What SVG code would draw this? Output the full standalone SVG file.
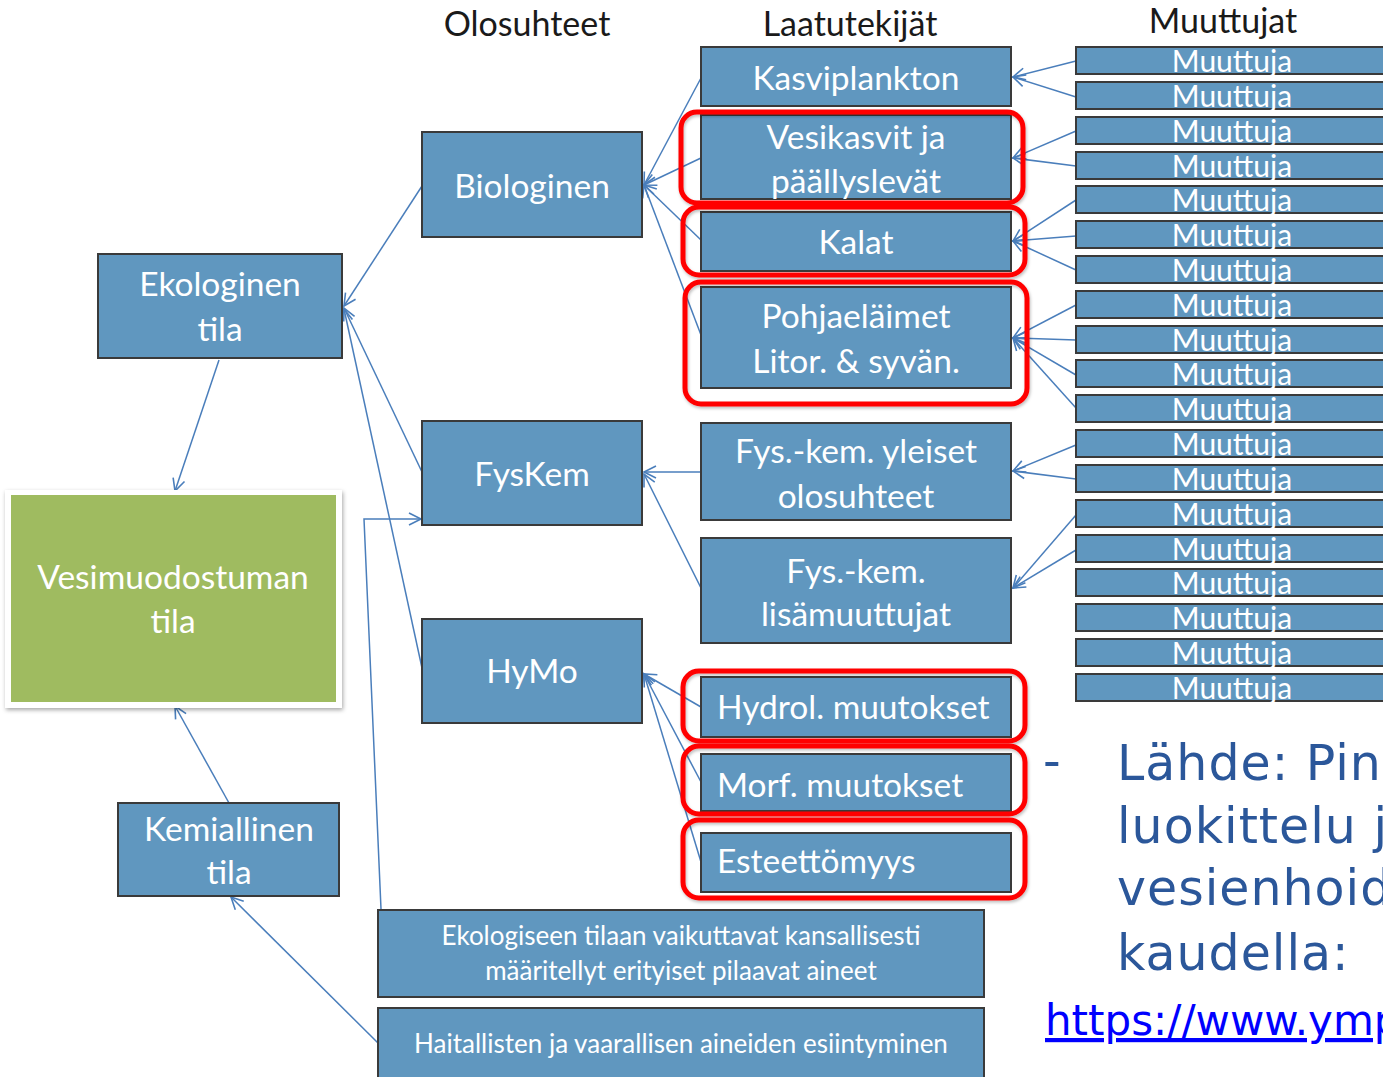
<svg xmlns="http://www.w3.org/2000/svg" width="1383" height="1077" viewBox="0 0 1383 1077">
<defs>
<style>
.box{fill:#6097bf;stroke:#3a3a3a;stroke-width:2}
.t{font-family:Lato,"Open Sans","Liberation Sans",sans-serif;fill:#ffffff;font-size:33.5px;text-anchor:middle}
.tl{text-anchor:start}
.small{font-size:26px}
.mt{font-family:Lato,"Open Sans","Liberation Sans",sans-serif;fill:#ffffff;font-size:30px;text-anchor:middle}
.hdr{font-family:Lato,"Open Sans","Liberation Sans",sans-serif;fill:#1a1a1a;font-size:34px;text-anchor:middle}
.red{fill:none;stroke:#ff0000;stroke-width:5}
.con{fill:none;stroke:#4a7ebb;stroke-width:1.5;marker-end:url(#arr)}
.src{font-family:"DejaVu Sans","Liberation Sans",sans-serif;fill:#2b579a;font-size:49px;letter-spacing:1px}
</style>
<marker id="arr" markerUnits="userSpaceOnUse" markerWidth="18" markerHeight="18" refX="15" refY="9" orient="auto">
<path d="M3,3 L15,9 L3,15" fill="none" stroke="#4a7ebb" stroke-width="1.6"/>
</marker>
<filter id="sh" x="-10%" y="-10%" width="120%" height="120%">
<feDropShadow dx="1" dy="2" stdDeviation="2" flood-color="#000" flood-opacity="0.35"/>
</filter>
<filter id="rsh" x="-10%" y="-10%" width="120%" height="130%">
<feDropShadow dx="1" dy="2" stdDeviation="1.5" flood-color="#000" flood-opacity="0.25"/>
</filter>
</defs>
<rect width="1383" height="1077" fill="#ffffff"/>

<g id="headers">
<text class="hdr" x="527" y="36">Olosuhteet</text>
<text class="hdr" x="850" y="36">Laatutekijät</text>
<text class="hdr" x="1223" y="33">Muuttujat</text>
</g>

<g id="connectors">
<line class="con" x1="219" y1="360" x2="175" y2="491"/>
<line class="con" x1="229" y1="803" x2="175" y2="706"/>
<line class="con" x1="378" y1="1043" x2="231" y2="897"/>
<line class="con" x1="422" y1="186" x2="344" y2="306"/>
<line class="con" x1="422" y1="472" x2="344" y2="308"/>
<line class="con" x1="422" y1="668" x2="344" y2="309"/>
<polyline class="con" points="381,909 364,519 421,519"/>
<line class="con" x1="701" y1="78" x2="644" y2="185"/>
<line class="con" x1="701" y1="158" x2="644" y2="185"/>
<line class="con" x1="701" y1="240" x2="644" y2="185"/>
<line class="con" x1="701" y1="335" x2="644" y2="185"/>
<line class="con" x1="701" y1="472" x2="644" y2="472"/>
<line class="con" x1="701" y1="588" x2="644" y2="474"/>
<line class="con" x1="701" y1="707" x2="644" y2="674"/>
<line class="con" x1="701" y1="782" x2="644" y2="674"/>
<line class="con" x1="701" y1="862" x2="644" y2="674"/>
<line class="con" x1="1076" y1="61" x2="1013" y2="77"/>
<line class="con" x1="1076" y1="97" x2="1013" y2="77"/>
<line class="con" x1="1076" y1="131" x2="1013" y2="158"/>
<line class="con" x1="1076" y1="166" x2="1013" y2="158"/>
<line class="con" x1="1076" y1="200" x2="1013" y2="241"/>
<line class="con" x1="1076" y1="236" x2="1013" y2="241"/>
<line class="con" x1="1076" y1="270" x2="1013" y2="241"/>
<line class="con" x1="1076" y1="305" x2="1013" y2="338"/>
<line class="con" x1="1076" y1="340" x2="1013" y2="338"/>
<line class="con" x1="1076" y1="375" x2="1013" y2="338"/>
<line class="con" x1="1076" y1="408" x2="1013" y2="338"/>
<line class="con" x1="1076" y1="445" x2="1013" y2="471"/>
<line class="con" x1="1076" y1="479" x2="1013" y2="471"/>
<line class="con" x1="1076" y1="515" x2="1013" y2="588"/>
<line class="con" x1="1076" y1="550" x2="1013" y2="588"/>
</g>

<g id="n-ekologinen"><rect class="box" x="98" y="254" width="244" height="104"/><text class="t" x="220" y="296">Ekologinen</text><text class="t" x="220" y="341">tila</text></g>
<g id="n-vesimuodostuman"><rect x="5" y="490" width="337" height="218" fill="#ffffff" filter="url(#sh)"/><rect x="11" y="495" width="325" height="207" fill="#9fbb60"/><text class="t" x="173" y="589">Vesimuodostuman</text><text class="t" x="173" y="633">tila</text></g>
<g id="n-kemiallinen"><rect class="box" x="118" y="803" width="221" height="93"/><text class="t" x="229" y="841">Kemiallinen</text><text class="t" x="229" y="884">tila</text></g>
<g id="n-biologinen"><rect class="box" x="422" y="132" width="220" height="105"/><text class="t" x="532" y="198">Biologinen</text></g>
<g id="n-fyskem"><rect class="box" x="422" y="421" width="220" height="104"/><text class="t" x="532" y="486">FysKem</text></g>
<g id="n-hymo"><rect class="box" x="422" y="619" width="220" height="104"/><text class="t" x="532" y="683">HyMo</text></g>

<g id="n-kasviplankton"><rect class="box" x="701" y="47" width="310" height="59"/><text class="t" x="856" y="90">Kasviplankton</text></g>
<g id="n-vesikasvit"><rect class="box" x="701" y="115" width="310" height="84"/><text class="t" x="856" y="149">Vesikasvit ja</text><text class="t" x="856" y="193">päällyslevät</text></g>
<g id="n-kalat"><rect class="box" x="701" y="212" width="310" height="59"/><text class="t" x="856" y="254">Kalat</text></g>
<g id="n-pohjaelaimet"><rect class="box" x="701" y="287" width="310" height="101"/><text class="t" x="856" y="328">Pohjaeläimet</text><text class="t" x="856" y="373">Litor. &amp; syvän.</text></g>
<g id="n-fyskem-yleiset"><rect class="box" x="701" y="423" width="310" height="97"/><text class="t" x="856" y="463">Fys.-kem. yleiset</text><text class="t" x="856" y="508">olosuhteet</text></g>
<g id="n-fyskem-lisa"><rect class="box" x="701" y="538" width="310" height="105"/><text class="t" x="856" y="583">Fys.-kem.</text><text class="t" x="856" y="626">lisämuuttujat</text></g>
<g id="n-hydrol"><rect class="box" x="701" y="677" width="310" height="60"/><text class="t tl" x="717" y="719">Hydrol. muutokset</text></g>
<g id="n-morf"><rect class="box" x="701" y="754" width="310" height="57"/><text class="t tl" x="717" y="797">Morf. muutokset</text></g>
<g id="n-esteettomyys"><rect class="box" x="701" y="833" width="310" height="59"/><text class="t tl" x="717" y="873">Esteettömyys</text></g>

<g id="n-erityiset"><rect class="box" x="378" y="910" width="606" height="87"/><text class="t small" x="681" y="945">Ekologiseen tilaan vaikuttavat kansallisesti</text><text class="t small" x="681" y="980">määritellyt erityiset pilaavat aineet</text></g>
<g id="n-haitalliset"><rect class="box" x="378" y="1008" width="606" height="80"/><text class="t small" x="681" y="1053">Haitallisten ja vaarallisen aineiden esiintyminen</text></g>

<g id="highlights" filter="url(#rsh)">
<rect class="red" x="681" y="112" width="342" height="91" rx="16"/>
<rect class="red" x="683" y="207" width="342" height="68" rx="16"/>
<rect class="red" x="685" y="282" width="342" height="122" rx="16"/>
<rect class="red" x="683" y="671" width="342" height="70" rx="16"/>
<rect class="red" x="683" y="746" width="342" height="68" rx="16"/>
<rect class="red" x="683" y="820" width="342" height="78" rx="16"/>
</g>

<g id="muuttujat">
<g id="m1"><rect class="box" x="1076" y="47" width="320" height="27"/><text class="mt" x="1232" y="72">Muuttuja</text></g>
<g id="m2"><rect class="box" x="1076" y="82" width="320" height="27"/><text class="mt" x="1232" y="107">Muuttuja</text></g>
<g id="m3"><rect class="box" x="1076" y="117" width="320" height="27"/><text class="mt" x="1232" y="142">Muuttuja</text></g>
<g id="m4"><rect class="box" x="1076" y="152" width="320" height="27"/><text class="mt" x="1232" y="177">Muuttuja</text></g>
<g id="m5"><rect class="box" x="1076" y="186" width="320" height="27"/><text class="mt" x="1232" y="211">Muuttuja</text></g>
<g id="m6"><rect class="box" x="1076" y="221" width="320" height="27"/><text class="mt" x="1232" y="246">Muuttuja</text></g>
<g id="m7"><rect class="box" x="1076" y="256" width="320" height="27"/><text class="mt" x="1232" y="281">Muuttuja</text></g>
<g id="m8"><rect class="box" x="1076" y="291" width="320" height="27"/><text class="mt" x="1232" y="316">Muuttuja</text></g>
<g id="m9"><rect class="box" x="1076" y="326" width="320" height="27"/><text class="mt" x="1232" y="351">Muuttuja</text></g>
<g id="m10"><rect class="box" x="1076" y="360" width="320" height="27"/><text class="mt" x="1232" y="385">Muuttuja</text></g>
<g id="m11"><rect class="box" x="1076" y="395" width="320" height="27"/><text class="mt" x="1232" y="420">Muuttuja</text></g>
<g id="m12"><rect class="box" x="1076" y="430" width="320" height="27"/><text class="mt" x="1232" y="455">Muuttuja</text></g>
<g id="m13"><rect class="box" x="1076" y="465" width="320" height="27"/><text class="mt" x="1232" y="490">Muuttuja</text></g>
<g id="m14"><rect class="box" x="1076" y="500" width="320" height="27"/><text class="mt" x="1232" y="525">Muuttuja</text></g>
<g id="m15"><rect class="box" x="1076" y="535" width="320" height="27"/><text class="mt" x="1232" y="560">Muuttuja</text></g>
<g id="m16"><rect class="box" x="1076" y="569" width="320" height="27"/><text class="mt" x="1232" y="594">Muuttuja</text></g>
<g id="m17"><rect class="box" x="1076" y="604" width="320" height="27"/><text class="mt" x="1232" y="629">Muuttuja</text></g>
<g id="m18"><rect class="box" x="1076" y="639" width="320" height="27"/><text class="mt" x="1232" y="664">Muuttuja</text></g>
<g id="m19"><rect class="box" x="1076" y="674" width="320" height="27"/><text class="mt" x="1232" y="699">Muuttuja</text></g>
</g>

<g id="source">
<text class="src" x="1043" y="778">-</text>
<text class="src" x="1117" y="780">Lähde: Pin</text>
<text class="src" x="1117" y="843">luokittelu ja</text>
<text class="src" x="1117" y="905">vesienhoid</text>
<text class="src" x="1117" y="970">kaudella:</text>
<text x="1045" y="1035" font-family="'DejaVu Sans','Liberation Sans',sans-serif" font-size="42" fill="#0000ff" text-decoration="underline">https://www.ymp</text>
</g>
</svg>
